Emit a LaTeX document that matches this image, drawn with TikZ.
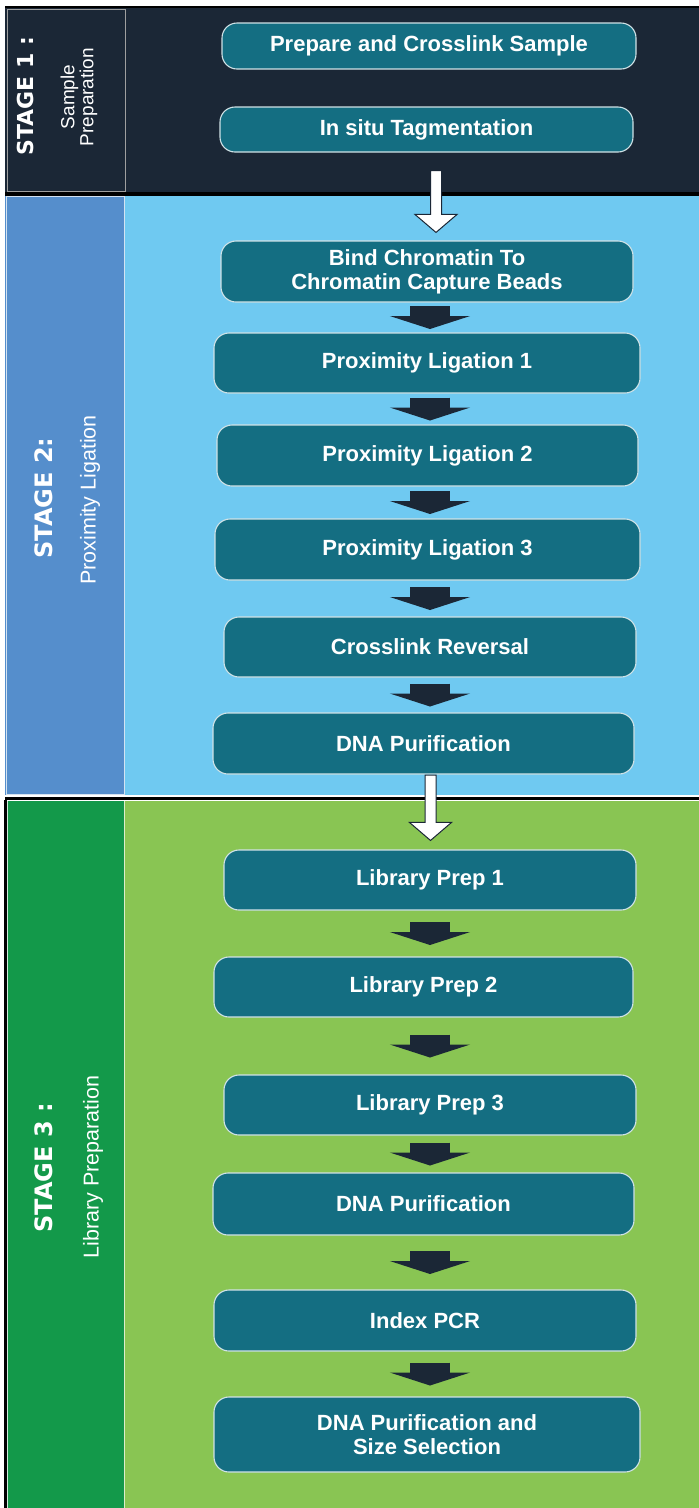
\documentclass[tikz,border=0pt]{standalone}
\usepackage{fontspec}
\setmainfont{Liberation Sans}
\newfontfamily\stagefont{DejaVu Sans}
\newfontfamily\subfont{Liberation Sans}
\usetikzlibrary{arrows.meta,calc}
\definecolor{navy}{HTML}{1B2736}
\definecolor{stwoleft}{HTML}{558ECC}
\definecolor{stwomain}{HTML}{6FC9F1}
\definecolor{sthreeleft}{HTML}{13994A}
\definecolor{sthreemain}{HTML}{89C553}
\definecolor{boxteal}{HTML}{146E82}
\tikzset{
  procbox/.style={rounded corners=15pt, fill=boxteal, draw=white!80!boxteal, line width=1.1pt,
    text=white, font=\bfseries\fontsize{22}{24}\selectfont, align=center, inner sep=0pt},
  darr/.style={line width=40pt, color=navy, -{Triangle[width=80pt,length=13pt]}},
  warr/.style={fill=white, draw=navy, line width=1pt, line join=miter},
  stagelbl/.style={rotate=90, text=white, font=\stagefont\bfseries\fontsize{24}{28}\selectfont, inner sep=0pt},
  sublbl/.style={rotate=90, text=white, font=\subfont\fontsize{21.5}{24}\selectfont, align=center, inner sep=0pt}
}
\newcommand\darrow[2]{\draw[darr] ($(#1.south -| ax)!0.5!(#2.north -| ax) + (0,-11.5)$) -- ($(#1.south -| ax)!0.5!(#2.north -| ax) + (0,11.5)$);}
\newcommand\warrow[5]{%
  \path (#1.south -| #3) ++(0,#4) coordinate (ws);
  \path (#2.north -| #3) ++(0,-#5) coordinate (wt);
  \draw[warr] ($(ws)+(-5.5,0)$) -- ($(wt)+(-5.5,-18)$) -- ($(wt)+(-21,-18)$) -- (wt)
     -- ($(wt)+(21,-18)$) -- ($(wt)+(5.5,-18)$) -- ($(ws)+(5.5,0)$) -- cycle;}
\begin{document}
\begin{tikzpicture}[x=1pt,y=-1pt]
\useasboundingbox (0,0) rectangle (699,1508);
% stage 1 band
\fill[navy] (5,6) rectangle (699,195);
\draw[black, line width=2pt] (5,7) -- (699,7);
\draw[gray!75, line width=1pt] (7.5,9) rectangle (125,191.5);
\fill[black] (5,191.5) rectangle (699,195.5);
% stage 2 band
\fill[stwoleft] (5,196) rectangle (124,795);
\fill[stwomain] (124,196) rectangle (699,795);
\draw[white!75!stwoleft, line width=0.8pt] (6,196.5) rectangle (124,794.5);
\fill[black] (5,796.5) rectangle (699,800);
% stage 3 band
\fill[black] (4,800) rectangle (6.5,1508);
\fill[sthreeleft] (6.5,800.5) rectangle (124,1508);
\fill[sthreemain] (124,800.5) rectangle (699,1508);
\draw[white!80!sthreeleft, line width=0.8pt] (7,801) -- (7,1508);
\draw[white!70!sthreemain, line width=0.8pt] (124,801) -- (124,1508);

% stage labels
\node[stagelbl, font=\stagefont\bfseries\fontsize{22}{26}\selectfont] (st1) at (25,96) {STAGE 1 :};
\node[sublbl, font=\subfont\fontsize{19}{19}\selectfont] (sub1) at (79,97) {Sample\\Preparation};
\node[stagelbl] (st2) at (44,498) {STAGE 2:};
\node[sublbl] (sub2) at (90,500) {Proximity Ligation};
\node[stagelbl] (st3) at (44,1168) {STAGE 3 :};
\node[sublbl] (sub3) at (93,1167) {Library Preparation};

% process boxes
\node[procbox, minimum width=414pt, minimum height=46pt] (b1) at (429,46) {Prepare and Crosslink Sample};
\node[procbox, minimum width=413pt, minimum height=45pt] (b2) at (426.5,129.5) {In situ Tagmentation};
\node[procbox, minimum width=412pt, minimum height=61pt] (b3) at (427,271.5) {Bind Chromatin To\\Chromatin Capture Beads};
\node[procbox, minimum width=426pt, minimum height=60pt] (b4) at (427,363) {Proximity Ligation 1};
\node[procbox, minimum width=421pt, minimum height=61pt] (b5) at (427.5,455.5) {Proximity Ligation 2};
\node[procbox, minimum width=425pt, minimum height=61pt] (b6) at (427.5,549.5) {Proximity Ligation 3};
\node[procbox, minimum width=412pt, minimum height=60pt] (b7) at (430,647) {Crosslink Reversal};
\node[procbox, minimum width=421pt, minimum height=61pt] (b8) at (423.5,743.5) {DNA Purification};
\node[procbox, minimum width=412pt, minimum height=60pt] (b9) at (430,880) {Library Prep 1};
\node[procbox, minimum width=419pt, minimum height=60pt] (b10) at (423.5,987) {Library Prep 2};
\node[procbox, minimum width=412pt, minimum height=60pt] (b11) at (430,1105) {Library Prep 3};
\node[procbox, minimum width=421pt, minimum height=62pt] (b12) at (423.5,1204) {DNA Purification};
\node[procbox, minimum width=422pt, minimum height=61pt] (b13) at (425,1320.5) {Index PCR};
\node[procbox, minimum width=426pt, minimum height=75pt] (b14) at (427,1434.5) {DNA Purification and\\Size Selection};

% connectors
\coordinate (ax) at (430,0);
\coordinate (wxa) at (436,0);
\coordinate (wxb) at (430.5,0);
\warrow{b2}{b3}{wxa}{18}{8}
\warrow{b8}{b9}{wxb}{0.5}{9}
\darrow{b3}{b4}
\darrow{b4}{b5}
\darrow{b5}{b6}
\darrow{b6}{b7}
\darrow{b7}{b8}
\darrow{b9}{b10}
\darrow{b10}{b11}
\darrow{b11}{b12}
\darrow{b12}{b13}
\darrow{b13}{b14}
\end{tikzpicture}
\end{document}
